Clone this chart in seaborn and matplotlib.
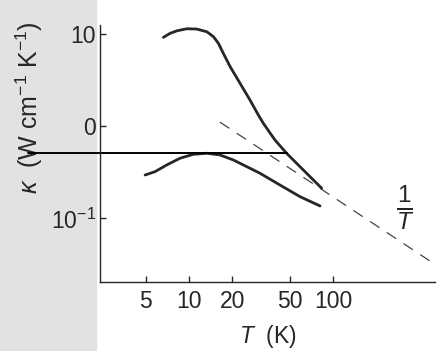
import numpy as np
import pandas as pd
import matplotlib
matplotlib.use("Agg")
import matplotlib.pyplot as plt
from matplotlib.patches import Rectangle
from matplotlib.ticker import FixedLocator, FixedFormatter, NullLocator
import seaborn as sns

# upper curve (pure crystal)
upper_T = [6.63, 7.38, 8.22, 9.64, 11.3, 13.3, 14.8, 16.0, 17.3, 19.3,
           22.6, 26.5, 30.3, 32.8, 39.5, 47.6, 59.0, 73.0, 83.5]
upper_k = [9.10, 10.05, 10.7, 11.27, 11.19, 10.45, 9.23, 7.83, 6.11, 4.38,
           2.90, 1.91, 1.315, 1.07, 0.706, 0.507, 0.363, 0.261, 0.212]

# lower curve
lower_T = [4.95, 5.81, 7.0, 8.66, 10.7, 13.3, 16.4, 20.3, 26.5, 31.1,
           42.8, 59.0, 81.3]
lower_k = [0.295, 0.321, 0.379, 0.448, 0.494, 0.507, 0.486, 0.429, 0.349,
           0.308, 0.230, 0.172, 0.1365]

# dashed 1/T guide, two end points
guide_T = [16.4, 494]
guide_k = [1.10, 0.033]

# horizontal stroke across the scan
stroke_T = [0.76, 47.6]
stroke_k = [0.507, 0.507]

x_ticks = [5, 10, 20, 50, 100]
x_tick_labels = ["5", "10", "20", "50", "100"]
y_ticks = [0.1, 1, 10]
y_tick_labels = ["10$^{-1}$", "0", "10"]

sns.set_style("white")
plt.rcParams["font.family"] = ["Liberation Sans", "DejaVu Sans"]
plt.rcParams["mathtext.fontset"] = "custom"
plt.rcParams["mathtext.rm"] = "Liberation Sans"
plt.rcParams["mathtext.it"] = "Liberation Sans:italic"

ink = "#262626"
fig = plt.figure(figsize=(4.47, 3.51), dpi=100, facecolor="white")
fig.patches.append(Rectangle((0, 0), 0.215, 1, transform=fig.transFigure,
                             color="#e2e2e2", zorder=-5))
ax = fig.add_axes([0.224, 0.197, 0.749, 0.732])
ax.set_zorder(2)
ax.set_facecolor("white")

df_up = pd.DataFrame({"T": upper_T, "k": upper_k})
df_lo = pd.DataFrame({"T": lower_T, "k": lower_k})
df_gd = pd.DataFrame({"T": guide_T, "k": guide_k})

sns.lineplot(data=df_up, x="T", y="k", ax=ax, color=ink, lw=2.0, sort=False)
sns.lineplot(data=df_lo, x="T", y="k", ax=ax, color=ink, lw=2.0, sort=False)
sns.lineplot(data=df_gd, x="T", y="k", ax=ax, color="#444444", lw=0.9,
             dashes=(9, 7), sort=False)
ax.plot(stroke_T, stroke_k, color="black", lw=1.4, clip_on=False)

ax.set_xscale("log")
ax.set_yscale("log")
ax.set_xlim(2.41, 511)
ax.set_ylim(0.0206, 12.4)

ax.xaxis.set_major_locator(FixedLocator(x_ticks))
ax.xaxis.set_major_formatter(FixedFormatter(x_tick_labels))
ax.yaxis.set_major_locator(FixedLocator(y_ticks))
ax.yaxis.set_major_formatter(FixedFormatter(y_tick_labels))
ax.xaxis.set_minor_locator(NullLocator())
ax.yaxis.set_minor_locator(NullLocator())

ax.tick_params(bottom=True, left=True, direction="in", length=4, width=1,
               colors=ink, labelsize=16.5, pad=3)
ax.tick_params(axis="x", pad=6)

for s in ["top", "right"]:
    ax.spines[s].set_visible(False)
for s in ["left", "bottom"]:
    ax.spines[s].set_color(ink)
    ax.spines[s].set_linewidth(1.0)

ax.set_xlabel("$\\mathit{T}$  (K)", fontsize=16.5, color=ink)
ax.set_ylabel("$\\mathit{\\kappa}$  (W cm$^{-1}$ K$^{-1}$)", fontsize=18,
              color=ink)
ax.xaxis.set_label_coords(0.5, -0.16)
ax.yaxis.set_label_coords(-0.165, 0.68)

ax.text(316, 0.13, "$\\frac{1}{\\mathit{T}}$", fontsize=25, color=ink,
        ha="center", va="center")

fig.savefig("out.png", dpi=100, facecolor=fig.get_facecolor())
